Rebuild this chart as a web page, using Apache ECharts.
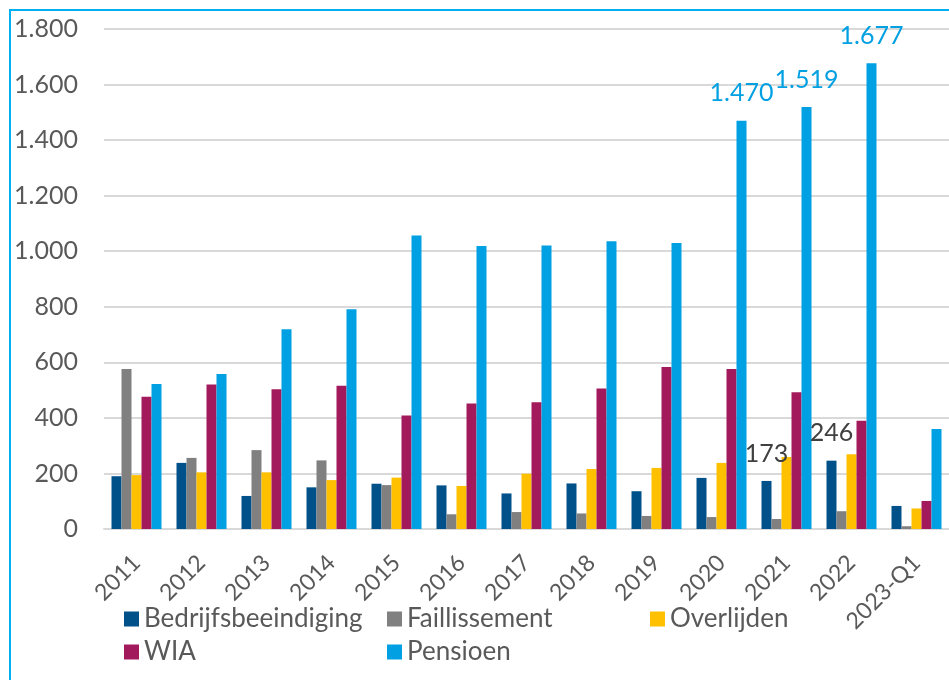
<!DOCTYPE html>
<html>
<head>
<meta charset="utf-8">
<script src="https://cdn.jsdelivr.net/npm/echarts@6/dist/echarts.min.js"></script>
<style>
  html, body { margin: 0; padding: 0; background: #ffffff; }
  #chart { width: 949px; height: 680px; }
</style>
</head>
<body>
<div id="chart"></div>
<script>
// categories and values
var categories = ["2011", "2012", "2013", "2014", "2015", "2016", "2017", "2018", "2019", "2020", "2021", "2022", "2023-Q1"];
var bedrijfsbeeindiging = [190, 238, 119, 150, 163, 157, 128, 164, 136, 184, 173, 246, 83];
var faillissement = [576, 256, 284, 247, 158, 53, 61, 56, 47, 43, 36, 64, 10];
var overlijden = [194, 204, 204, 176, 185, 155, 199, 216, 220, 238, 259, 269, 74];
var wia = [476, 520, 503, 516, 409, 452, 456, 506, 583, 576, 492, 390, 101];
var pensioen = [522, 558, 719, 791, 1057, 1019, 1021, 1036, 1030, 1470, 1519, 1677, 360];
var yTicks = [0, 200, 400, 600, 800, 1000, 1200, 1400, 1600, 1800];
// which bars carry a value label
var bedrijfLabelIdx = [10, 11];
var pensioenLabelIdx = [9, 10, 11];

var FONT = "Lato";
var TEXT = "#595959";

function nl(v) {
  return String(v).replace(/\B(?=(\d{3})+(?!\d))/g, ".");
}

function barSeries(name, data, color, labelIdx, labelColor) {
  var s = {
    name: name,
    type: "bar",
    barWidth: 10,
    barGap: "0%",
    itemStyle: { color: color },
    data: data
  };
  if (labelIdx) {
    s.label = {
      show: true,
      position: "top",
      distance: 15,
      fontFamily: FONT,
      fontSize: 25,
      color: labelColor,
      formatter: function (p) {
        return labelIdx.indexOf(p.dataIndex) >= 0 ? nl(p.value) : "";
      }
    };
  }
  return s;
}

function legendAt(name, left, top) {
  return {
    data: [name],
    left: left,
    top: top,
    icon: "rect",
    itemWidth: 15,
    itemHeight: 15,
    padding: 0,
    textStyle: { fontFamily: FONT, fontSize: 26, color: TEXT }
  };
}

var myChart = echarts.init(document.getElementById("chart"));
var option = {
  animation: false,
  backgroundColor: "#ffffff",
  graphic: [
    {
      type: "rect",
      z: -10,
      shape: { x: 10, y: 10, width: 2000, height: 2000 },
      style: { fill: "none", stroke: "#00b0f0", lineWidth: 2 }
    }
  ],
  legend: [
    legendAt("Bedrijfsbeeindiging", 124, 606),
    legendAt("WIA", 124, 639),
    legendAt("Faillissement", 387, 606),
    legendAt("Pensioen", 387, 639),
    legendAt("Overlijden", 650, 606)
  ],
  grid: {
    left: 104,
    top: 29,
    width: 855,
    height: 500,
    containLabel: false
  },
  xAxis: {
    type: "category",
    data: categories,
    axisTick: { show: false },
    axisLine: { lineStyle: { color: "#d9d9d9", width: 2 } },
    axisLabel: {
      interval: 0,
      rotate: 45,
      margin: 30,
      fontFamily: FONT,
      fontSize: 23,
      color: TEXT
    }
  },
  yAxis: {
    type: "value",
    min: yTicks[0],
    max: yTicks[yTicks.length - 1],
    interval: 200,
    axisLine: { show: false },
    axisTick: { show: false },
    axisLabel: {
      margin: 26,
      fontFamily: FONT,
      fontSize: 25,
      color: TEXT,
      formatter: function (v) { return nl(v); }
    },
    splitLine: { lineStyle: { color: "#d9d9d9", width: 2 } }
  },
  series: [
    barSeries("Bedrijfsbeeindiging", bedrijfsbeeindiging, "#00508a", bedrijfLabelIdx, "#404040"),
    barSeries("Faillissement", faillissement, "#808080"),
    barSeries("Overlijden", overlijden, "#ffc000"),
    barSeries("WIA", wia, "#a21a5b"),
    barSeries("Pensioen", pensioen, "#00a0e2", pensioenLabelIdx, "#00a0e2")
  ]
};
myChart.setOption(option, true);
</script>
</body>
</html>
